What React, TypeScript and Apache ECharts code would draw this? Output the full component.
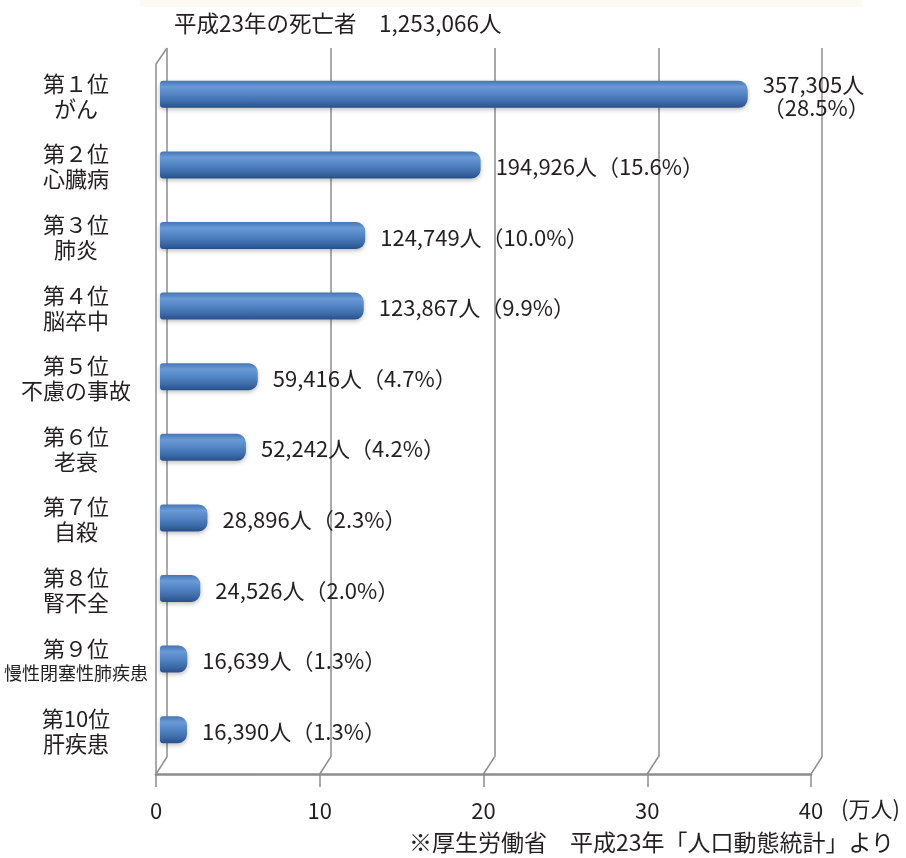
import React, { useEffect, useRef } from "react";
import * as echarts from "echarts";

const ranks = ["第１位", "第２位", "第３位", "第４位", "第５位", "第６位", "第７位", "第８位", "第９位", "第10位"];
const causes = ["がん", "心臓病", "肺炎", "脳卒中", "不慮の事故", "老衰", "自殺", "腎不全", "慢性閉塞性肺疾患", "肝疾患"];
const deaths = [357305, 194926, 124749, 123867, 59416, 52242, 28896, 24526, 16639, 16390];
const shares = [28.5, 15.6, 10.0, 9.9, 4.7, 4.2, 2.3, 2.0, 1.3, 1.3];
const xTicks = [0, 10, 20, 30, 40];
const titleText = "平成23年の死亡者　1,253,066人";
const unitText = "(万人)";
const sourceText = "※厚生労働省　平成23年「人口動態統計」より";

const FONT = "'Noto Sans CJK JP', 'Noto Sans', sans-serif";
const TEXT = "#231f20";
const LINE = "#8c8c8c";

export default function App() {
  const ref = useRef<HTMLDivElement>(null);
  useEffect(() => {
    if (!ref.current) return;
    const chart = echarts.init(ref.current, null, { renderer: "svg" });

    const backLeft = 167, frontLeft = 156, span = 655;
    const backTop = 48, backBottom = 757, frontY = 774, frontTop = 64;
    const xMax = xTicks[xTicks.length - 1];
    const unit = span / xMax;

    const connectors = xTicks.map((t) => ({
      type: "line",
      shape: { x1: backLeft + t * unit, y1: backBottom, x2: frontLeft + t * unit, y2: frontY },
      style: { stroke: LINE, lineWidth: 1.5 },
      silent: true,
    }));

    const fmt = (n: number) => n.toLocaleString("en-US");

    chart.setOption({
      animation: false,
      textStyle: { fontFamily: FONT, color: TEXT },
      grid: [
        { left: 160, top: 59, width: 658, height: 706, containLabel: false },
        { left: backLeft, top: backTop, width: span, height: backBottom - backTop },
        { left: frontLeft, top: frontTop, width: span, height: frontY - frontTop },
      ],
      xAxis: [
        { gridIndex: 0, type: "value", min: 0, max: xMax, show: false },
        {
          gridIndex: 1, type: "value", min: 0, max: xMax, interval: 10,
          axisLine: { show: false }, axisTick: { show: false }, axisLabel: { show: false },
          splitLine: { show: true, lineStyle: { color: LINE, width: 1.5 } },
        },
        {
          gridIndex: 2, type: "value", min: 0, max: xMax, interval: 10, position: "bottom",
          axisLine: { show: true, lineStyle: { color: LINE, width: 2.5 } },
          axisTick: { show: true, length: 13, lineStyle: { color: LINE, width: 1.5 } },
          axisLabel: { show: true, margin: 24, fontSize: 22, color: TEXT, fontFamily: FONT },
          splitLine: { show: false },
        },
      ],
      yAxis: [
        {
          gridIndex: 0, type: "category", inverse: true, data: causes,
          axisLine: { show: false }, axisTick: { show: false },
          axisLabel: {
            margin: 84, align: "center",
            formatter: (_v: string, i: number) =>
              `{r|${ranks[i]}}\n{${causes[i].length > 6 ? "s" : "c"}|${causes[i]}}`,
            rich: {
              r: { fontSize: 22, lineHeight: 25, fontFamily: FONT, color: TEXT },
              c: { fontSize: 22, lineHeight: 25, fontFamily: FONT, color: TEXT },
              s: { fontSize: 18, lineHeight: 25, fontFamily: FONT, color: TEXT },
            },
          },
        },
        { gridIndex: 1, type: "value", min: 0, max: 1, show: false },
        {
          gridIndex: 2, type: "value", min: 0, max: 1,
          axisLine: { show: true, lineStyle: { color: LINE, width: 1.5 } },
          axisTick: { show: false }, axisLabel: { show: false }, splitLine: { show: false },
        },
      ],
      series: [
        {
          type: "bar",
          xAxisIndex: 0,
          yAxisIndex: 0,
          barWidth: 27,
          z: 5,
          data: deaths.map((d) => d / 10000),
          itemStyle: {
            borderRadius: [3, 9, 9, 3],
            color: new echarts.graphic.LinearGradient(0, 0, 0, 1, [
              { offset: 0, color: "#4675b4" },
              { offset: 0.22, color: "#6a9ad6" },
              { offset: 0.5, color: "#5384c4" },
              { offset: 0.8, color: "#3b69a7" },
              { offset: 1, color: "#284f88" },
            ]),
            shadowBlur: 4,
            shadowColor: "rgba(0,0,0,0.25)",
            shadowOffsetY: 2,
          },
          label: {
            show: true,
            position: "right",
            distance: 15,
            fontSize: 22,
            lineHeight: 23,
            fontFamily: FONT,
            color: TEXT,
            formatter: (p: any) =>
              `${fmt(deaths[p.dataIndex])}人${p.dataIndex === 0 ? "\n" : ""}（${shares[p.dataIndex].toFixed(1)}%）`,
          },
        },
      ],
      graphic: [
        { type: "rect", shape: { x: 140, y: 0, width: 722, height: 7 }, style: { fill: "#fcfaf3" }, silent: true },
        ...connectors,
        {
          type: "line",
          shape: { x1: frontLeft, y1: frontTop, x2: backLeft, y2: backTop },
          style: { stroke: LINE, lineWidth: 1.5 },
          silent: true,
        },
        {
          type: "text", left: 174, top: 11,
          style: { text: titleText, font: `22.5px ${FONT}`, fill: TEXT },
        },
        {
          type: "text", left: 841, top: 796,
          style: { text: unitText, font: `22px ${FONT}`, fill: TEXT },
        },
        {
          type: "text", left: 409, top: 829,
          style: { text: sourceText, font: `23px ${FONT}`, fill: TEXT },
        },
      ],
    });
    return () => chart.dispose();
  }, []);
  return <div ref={ref} style={{ position: "fixed", left: 0, top: 0, width: 906, height: 858 }} />;
}
